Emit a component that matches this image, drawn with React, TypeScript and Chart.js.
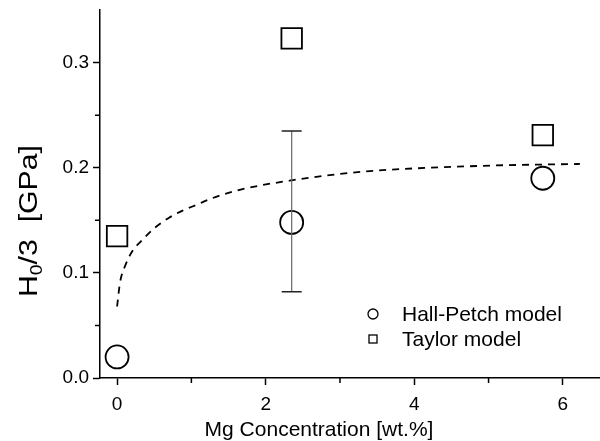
import { useEffect, useRef } from 'react';
import { Chart, registerables } from 'chart.js';

Chart.register(...registerables);

// Data
const concentrations = [0, 2.35, 5.73];
const hallPetch = [0.02, 0.148, 0.19];
const taylor = [0.135, 0.323, 0.231];
const hallPetchErrLow: (number | null)[] = [null, 0.082, null];
const hallPetchErrHigh: (number | null)[] = [null, 0.235, null];

const fitX = [0.0, 0.04, 0.108, 0.2, 0.336, 0.51, 0.69, 0.875, 1.08, 1.28, 1.65, 2.35, 3.27, 4.88, 6.23];
const fitY = [0.068, 0.091, 0.1066, 0.12, 0.131, 0.143, 0.152, 0.159, 0.165, 0.171, 0.179, 0.188, 0.196, 0.2017, 0.2036];

const xTicks = [0, 2, 4, 6];
const xMinorTicks = [1, 3, 5];
const yTicks = [0, 0.1, 0.2, 0.3];
const yMinorTicks = [0.05, 0.15, 0.25];

const legendLabels = ['Hall-Petch model', 'Taylor model'];
const xTitle = 'Mg Concentration [wt.%]';
const yTitleMain = 'H';
const yTitleSub = '0';
const yTitleRest = '/3  [GPa]';

const FONT = '"Liberation Sans", Arial, sans-serif';

const decorPlugin = {
  id: 'decor',
  afterDatasetsDraw(chart: any) {
    const ctx = chart.ctx;
    const xs = chart.scales.x;
    const ys = chart.scales.y;
    // error bars
    ctx.save();
    concentrations.forEach((c, i) => {
      const lo = hallPetchErrLow[i];
      const hi = hallPetchErrHigh[i];
      if (lo == null || hi == null) return;
      const px = xs.getPixelForValue(c);
      const pt = ys.getPixelForValue(hi);
      const pb = ys.getPixelForValue(lo);
      ctx.strokeStyle = '#666';
      ctx.lineWidth = 1.2;
      ctx.beginPath();
      ctx.moveTo(px, pt);
      ctx.lineTo(px, pb);
      ctx.stroke();
      ctx.strokeStyle = '#222';
      ctx.lineWidth = 1.5;
      ctx.beginPath();
      ctx.moveTo(px - 10, pt);
      ctx.lineTo(px + 10, pt);
      ctx.moveTo(px - 10, pb);
      ctx.lineTo(px + 10, pb);
      ctx.stroke();
    });
    ctx.restore();
  },
  afterDraw(chart: any) {
    const ctx = chart.ctx;
    const xs = chart.scales.x;
    const ys = chart.scales.y;
    const area = chart.chartArea;
    ctx.save();
    // minor ticks
    ctx.strokeStyle = '#000';
    ctx.lineWidth = 1.5;
    ctx.beginPath();
    xMinorTicks.forEach((v) => {
      const px = xs.getPixelForValue(v);
      ctx.moveTo(px, area.bottom);
      ctx.lineTo(px, area.bottom + 5);
    });
    yMinorTicks.forEach((v) => {
      const py = ys.getPixelForValue(v);
      ctx.moveTo(area.left, py);
      ctx.lineTo(area.left - 5, py);
    });
    ctx.stroke();

    // legend
    ctx.lineWidth = 1.3;
    ctx.strokeStyle = '#000';
    ctx.beginPath();
    ctx.arc(373, 314, 5, 0, Math.PI * 2);
    ctx.stroke();
    ctx.strokeRect(369, 335, 8, 8);
    ctx.fillStyle = '#000';
    ctx.font = `21px ${FONT}`;
    ctx.textAlign = 'left';
    ctx.textBaseline = 'middle';
    ctx.fillText(legendLabels[0], 402, 315);
    ctx.fillText(legendLabels[1], 402, 340);

    // x title
    ctx.font = `21px ${FONT}`;
    ctx.textAlign = 'center';
    ctx.fillText(xTitle, 319, 430);

    // y title with subscript
    const F = 25;
    ctx.font = `${F}px ${FONT}`;
    const wH = ctx.measureText(yTitleMain).width;
    const wR = ctx.measureText(yTitleRest).width;
    ctx.font = `${Math.round(F * 0.65)}px ${FONT}`;
    const wS = ctx.measureText(yTitleSub).width;
    const natural = wH + wS + wR;
    const sx = 152 / natural;
    ctx.translate(37, 297);
    ctx.rotate(-Math.PI / 2);
    ctx.scale(sx, 1);
    ctx.textAlign = 'left';
    ctx.textBaseline = 'alphabetic';
    ctx.font = `${F}px ${FONT}`;
    ctx.fillText(yTitleMain, 0, 0);
    ctx.font = `${Math.round(F * 0.65)}px ${FONT}`;
    ctx.fillText(yTitleSub, wH, F * 0.2);
    ctx.font = `${F}px ${FONT}`;
    ctx.fillText(yTitleRest, wH + wS, 0);
    ctx.restore();
  },
};

const zeroPad = (s: any) => {
  s.paddingLeft = 0;
  s.paddingRight = 0;
  s.paddingTop = 0;
  s.paddingBottom = 0;
};

export default function App() {
  const ref = useRef<HTMLCanvasElement | null>(null);
  useEffect(() => {
    document.body.style.margin = '0';
    if (!ref.current) return;
    const chart = new Chart(ref.current, {
      type: 'scatter',
      data: {
        datasets: [
          {
            type: 'line',
            label: 'fit',
            data: fitX.map((x, i) => ({ x, y: fitY[i] })),
            borderColor: '#000',
            borderWidth: 1.8,
            borderDash: [7, 6],
            pointRadius: 0,
            fill: false,
            cubicInterpolationMode: 'monotone',
          } as any,
          {
            label: legendLabels[0],
            data: concentrations.map((x, i) => ({ x, y: hallPetch[i] })),
            pointStyle: 'circle',
            pointRadius: 11.5,
            pointBorderWidth: 1.8,
            pointBorderColor: '#000',
            pointBackgroundColor: 'rgba(0,0,0,0)',
            borderColor: '#000',
            backgroundColor: 'rgba(0,0,0,0)',
          },
          {
            label: legendLabels[1],
            data: concentrations.map((x, i) => ({ x, y: taylor[i] })),
            pointStyle: 'rect',
            pointRadius: 14.5,
            pointBorderWidth: 1.8,
            pointBorderColor: '#000',
            pointBackgroundColor: 'rgba(0,0,0,0)',
            borderColor: '#000',
            backgroundColor: 'rgba(0,0,0,0)',
          },
        ],
      },
      options: {
        responsive: false,
        animation: false,
        layout: { autoPadding: false, padding: { top: 10, right: 0, left: 0, bottom: 0 } },
        plugins: { legend: { display: false }, tooltip: { enabled: false } },
        scales: {
          x: {
            type: 'linear',
            min: -0.23,
            max: 6.5,
            afterBuildTicks: (s: any) => {
              s.ticks = xTicks.map((v) => ({ value: v }));
            },
            afterFit: (s: any) => {
              s.height = 63;
              zeroPad(s);
            },
            ticks: {
              color: '#000',
              font: { family: FONT, size: 19 },
              padding: 8,
              maxRotation: 0,
              callback: (v: any) => String(v),
            },
            grid: {
              drawOnChartArea: false,
              drawTicks: true,
              tickLength: 7,
              tickColor: '#000',
              tickWidth: 1.5,
              color: '#000',
            },
            border: { display: true, color: '#000', width: 1.5 },
          },
          y: {
            type: 'linear',
            min: 0,
            max: 0.35,
            afterBuildTicks: (s: any) => {
              s.ticks = yTicks.map((v) => ({ value: v }));
            },
            afterFit: (s: any) => {
              s.width = 100;
              zeroPad(s);
            },
            ticks: {
              color: '#000',
              font: { family: FONT, size: 19 },
              padding: 4,
              callback: (v: any) => Number(v).toFixed(1),
            },
            grid: {
              drawOnChartArea: false,
              drawTicks: true,
              tickLength: 7,
              tickColor: '#000',
              tickWidth: 1.5,
              color: '#000',
            },
            border: { display: true, color: '#000', width: 1.5 },
          },
        },
      },
      plugins: [decorPlugin],
    });
    return () => chart.destroy();
  }, []);
  return <canvas ref={ref} width={600} height={441} style={{ display: 'block' }} />;
}
